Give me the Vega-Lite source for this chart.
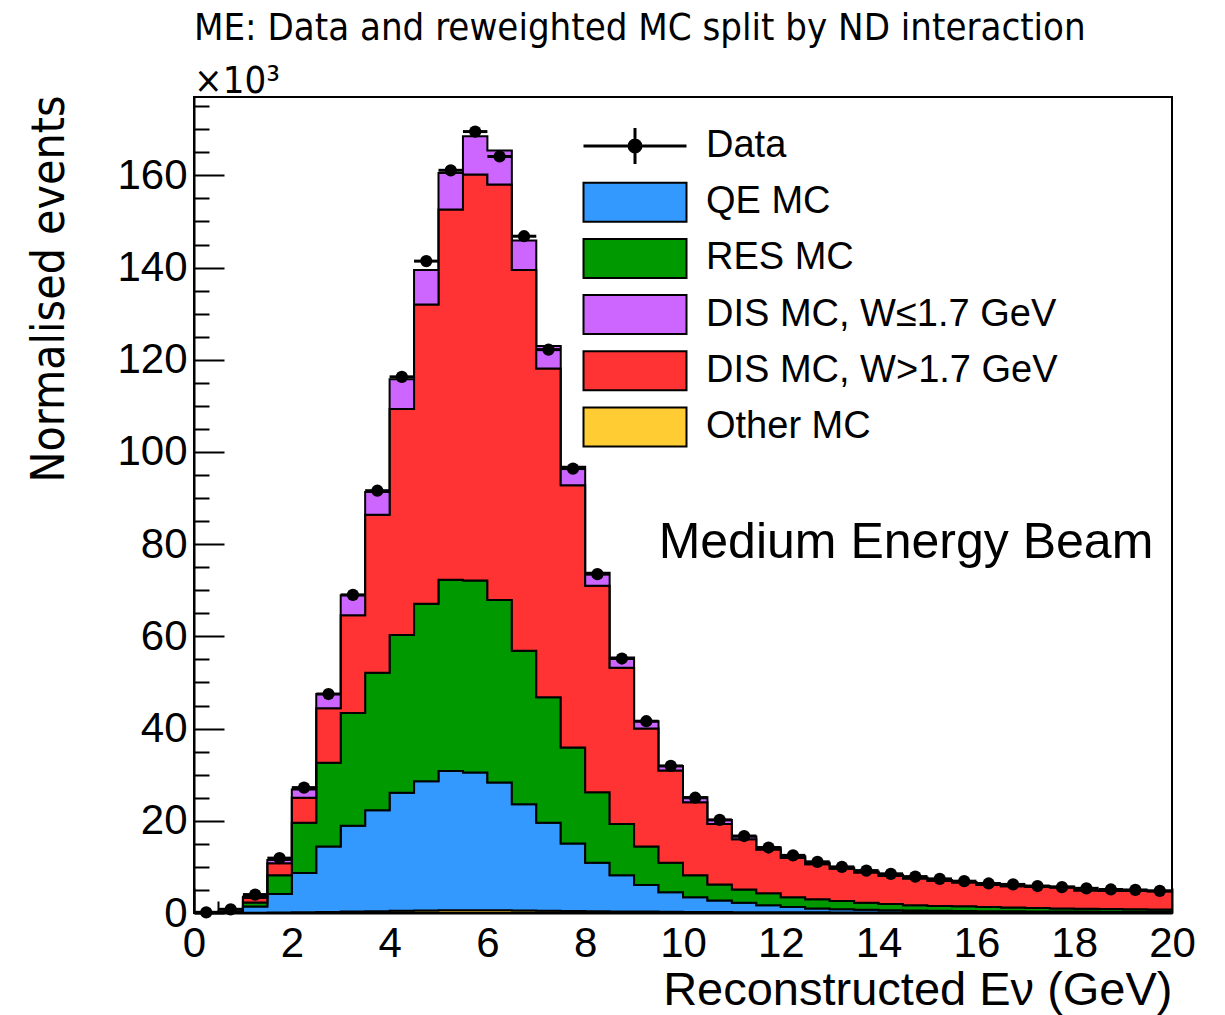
{
  "$schema": "https://vega.github.io/schema/vega-lite/v6.json",
  "width": 978,
  "height": 816,
  "autosize": {"type": "none"},
  "padding": {"left": 194, "top": 97, "right": 53, "bottom": 102},
  "background": "white",
  "title": {
    "text": "ME: Data and reweighted MC split by ND interaction",
    "subtitle": "×10³",
    "anchor": "start",
    "frame": "group",
    "font": "Liberation Sans Narrow, DejaVu Sans Condensed, sans-serif",
    "fontSize": 38,
    "fontWeight": "normal",
    "color": "black",
    "subtitleFont": "Liberation Sans Narrow, DejaVu Sans Condensed, sans-serif",
    "subtitleFontSize": 38,
    "subtitleColor": "black",
    "subtitlePadding": 15,
    "offset": -16
  },
  "config": {
    "view": {"stroke": "black", "strokeWidth": 2},
    "axis": {
      "domainColor": "black",
      "domainWidth": 2,
      "tickColor": "black",
      "tickWidth": 2,
      "labelColor": "black",
      "titleColor": "black",
      "grid": false,
      "labelFont": "Liberation Sans",
      "labelFontSize": 42,
      "labelFlush": false,
      "labelOverlap": false
    }
  },
  "data": {
    "values": [
      {"e": 0.25, "d": 0.15, "t0": 0, "t1": 0.02, "t2": 0.03, "t3": 0.04, "t4": 0.05},
      {"e": 0.75, "d": 0.8, "t0": 0.01, "t1": 0.1, "t2": 0.18, "t3": 0.25, "t4": 0.3},
      {"e": 1.25, "d": 4.0, "t0": 0.05, "t1": 1.4, "t2": 2.3, "t3": 3.3, "t4": 3.5},
      {"e": 1.75, "d": 11.9, "t0": 0.1, "t1": 4.1, "t2": 8.2, "t3": 10.8, "t4": 11.5},
      {"e": 2.25, "d": 27.2, "t0": 0.15, "t1": 8.7, "t2": 19.6, "t3": 25.0, "t4": 26.8},
      {"e": 2.75, "d": 47.5, "t0": 0.2, "t1": 14.4, "t2": 32.6, "t3": 44.4, "t4": 47.5},
      {"e": 3.25, "d": 69.0, "t0": 0.3, "t1": 18.9, "t2": 43.4, "t3": 64.6, "t4": 68.9},
      {"e": 3.75, "d": 91.6, "t0": 0.4, "t1": 22.3, "t2": 52.1, "t3": 86.4, "t4": 91.3},
      {"e": 4.25, "d": 116.3, "t0": 0.5, "t1": 26.1, "t2": 60.3, "t3": 109.3, "t4": 115.8},
      {"e": 4.75, "d": 141.4, "t0": 0.55, "t1": 28.6, "t2": 67.1, "t3": 132.0, "t4": 139.5},
      {"e": 5.25, "d": 161.1, "t0": 0.6, "t1": 30.8, "t2": 72.3, "t3": 152.6, "t4": 160.5},
      {"e": 5.75, "d": 169.5, "t0": 0.6, "t1": 30.5, "t2": 72.1, "t3": 160.2, "t4": 168.5},
      {"e": 6.25, "d": 164.1, "t0": 0.6, "t1": 28.3, "t2": 67.9, "t3": 158.0, "t4": 165.4},
      {"e": 6.75, "d": 146.8, "t0": 0.55, "t1": 23.6, "t2": 56.9, "t3": 139.5, "t4": 145.9},
      {"e": 7.25, "d": 122.2, "t0": 0.5, "t1": 19.6, "t2": 46.8, "t3": 118.1, "t4": 123.0},
      {"e": 7.75, "d": 96.4, "t0": 0.45, "t1": 15.1, "t2": 35.9, "t3": 92.8, "t4": 96.8},
      {"e": 8.25, "d": 73.5, "t0": 0.4, "t1": 10.9, "t2": 26.2, "t3": 71.0, "t4": 73.8},
      {"e": 8.75, "d": 55.2, "t0": 0.35, "t1": 8.2, "t2": 19.3, "t3": 53.2, "t4": 55.4},
      {"e": 9.25, "d": 41.6, "t0": 0.3, "t1": 6.1, "t2": 14.4, "t3": 40.0, "t4": 41.6},
      {"e": 9.75, "d": 31.9, "t0": 0.25, "t1": 4.5, "t2": 10.9, "t3": 30.9, "t4": 31.9},
      {"e": 10.25, "d": 25.0, "t0": 0.22, "t1": 3.4, "t2": 8.2, "t3": 24.0, "t4": 25.1},
      {"e": 10.75, "d": 20.2, "t0": 0.2, "t1": 2.7, "t2": 6.2, "t3": 19.3, "t4": 20.2},
      {"e": 11.25, "d": 16.7, "t0": 0.18, "t1": 2.2, "t2": 5.1, "t3": 16.0, "t4": 16.6},
      {"e": 11.75, "d": 14.2, "t0": 0.16, "t1": 1.7, "t2": 4.3, "t3": 13.8, "t4": 14.2},
      {"e": 12.25, "d": 12.5, "t0": 0.15, "t1": 1.3, "t2": 3.4, "t3": 12.0, "t4": 12.3},
      {"e": 12.75, "d": 11.1, "t0": 0.14, "t1": 0.95, "t2": 3.0, "t3": 10.6, "t4": 10.9},
      {"e": 13.25, "d": 10.0, "t0": 0.13, "t1": 0.8, "t2": 2.6, "t3": 9.6, "t4": 9.85},
      {"e": 13.75, "d": 9.2, "t0": 0.12, "t1": 0.7, "t2": 2.2, "t3": 8.8, "t4": 9.0},
      {"e": 14.25, "d": 8.5, "t0": 0.12, "t1": 0.6, "t2": 1.95, "t3": 8.1, "t4": 8.3},
      {"e": 14.75, "d": 7.9, "t0": 0.11, "t1": 0.55, "t2": 1.7, "t3": 7.5, "t4": 7.7},
      {"e": 15.25, "d": 7.4, "t0": 0.11, "t1": 0.5, "t2": 1.5, "t3": 7.0, "t4": 7.15},
      {"e": 15.75, "d": 6.9, "t0": 0.1, "t1": 0.45, "t2": 1.45, "t3": 6.6, "t4": 6.75},
      {"e": 16.25, "d": 6.4, "t0": 0.1, "t1": 0.4, "t2": 1.3, "t3": 6.1, "t4": 6.25},
      {"e": 16.75, "d": 6.2, "t0": 0.1, "t1": 0.38, "t2": 1.2, "t3": 5.8, "t4": 5.95},
      {"e": 17.25, "d": 5.85, "t0": 0.1, "t1": 0.35, "t2": 1.1, "t3": 5.7, "t4": 5.85},
      {"e": 17.75, "d": 5.6, "t0": 0.1, "t1": 0.33, "t2": 1.0, "t3": 5.6, "t4": 5.75},
      {"e": 18.25, "d": 5.35, "t0": 0.1, "t1": 0.3, "t2": 0.9, "t3": 4.9, "t4": 5.0},
      {"e": 18.75, "d": 5.1, "t0": 0.1, "t1": 0.28, "t2": 0.85, "t3": 4.85, "t4": 4.95},
      {"e": 19.25, "d": 5.0, "t0": 0.1, "t1": 0.26, "t2": 0.8, "t3": 4.8, "t4": 4.9},
      {"e": 19.75, "d": 4.8, "t0": 0.1, "t1": 0.25, "t2": 0.75, "t3": 4.7, "t4": 4.8}
    ]
  },
  "layer": [
    {
      "transform": [
        {"bin": {"step": 0.5, "extent": [0, 20]}, "field": "e", "as": ["lo", "hi"]},
        {"fold": ["lo", "hi"], "as": ["edge", "x"]}
      ],
      "mark": {"type": "area", "opacity": 1, "stroke": "black", "strokeWidth": 2},
      "encoding": {
        "x": {
          "field": "x", "type": "quantitative",
          "scale": {"domain": [0, 20], "nice": false, "zero": false},
          "axis": {
            "title": "Reconstructed Eν (GeV)",
            "titleFont": "Liberation Sans",
            "titleFontSize": 47,
            "titleFontWeight": "normal",
            "titleAnchor": "end",
            "titleAlign": "right",
            "titleBaseline": "alphabetic",
            "titleX": 978,
            "titleY": 91,
            "tickCount": 40,
            "labelExpr": "datum.value % 2 === 0 ? format(datum.value, 'd') : ''",
            "tickSize": {"condition": {"test": "datum.value % 2 === 0", "value": -25}, "value": -12},
            "labelPadding": 35
          }
        },
        "y": {
          "field": "t0", "type": "quantitative", "stack": null,
          "scale": {"domain": [0, 177], "nice": false},
          "axis": {
            "title": "Normalised events",
            "titleFont": "Liberation Sans Narrow, DejaVu Sans Condensed, sans-serif",
            "titleFontSize": 46,
            "titleFontWeight": "normal",
            "titleAnchor": "end",
            "titleAlign": "right",
            "titleBaseline": "alphabetic",
            "titleAngle": -90,
            "titleX": -131,
            "titleY": -2,
            "tickCount": 36,
            "labelExpr": "datum.value % 20 === 0 ? format(datum.value, 'd') : ''",
            "tickSize": {"condition": {"test": "datum.value % 20 === 0", "value": -30}, "value": -15},
            "labelPadding": 37
          }
        },
        "y2": {"datum": 0},
        "order": [{"field": "x", "type": "quantitative"}, {"field": "edge", "type": "nominal"}],
        "color": {
          "datum": "Other MC",
          "type": "nominal",
          "scale": {
            "domain": ["Data", "QE MC", "RES MC", "DIS MC, W≤1.7 GeV", "DIS MC, W>1.7 GeV", "Other MC"],
            "range": ["#000000", "#3399ff", "#009900", "#cc66ff", "#ff3333", "#ffcc33"]
          },
          "legend": {
            "orient": "none",
            "legendX": 422,
            "legendY": 30,
            "title": null,
            "padding": 0,
            "symbolSize": 1600,
            "symbolOpacity": 1,
            "symbolStrokeColor": "black",
            "symbolStrokeWidth": 2,
            "labelFont": "Liberation Sans",
            "labelFontSize": 38,
            "labelColor": "black",
            "labelLimit": 0,
            "labelOffset": 52,
            "rowPadding": 8.2,
            "encode": {
              "symbols": {
                "update": {
                  "shape": {"signal": "datum.value === 'Data' ? 'M-2.575,0H2.575M0,-0.9V0.9M0.3,0A0.3,0.3,0,1,1,-0.3,0A0.3,0.3,0,1,1,0.3,0Z' : 'M-2.575,-0.975H2.575V0.975H-2.575Z'"},
                  "stroke": {"value": "black"},
                  "strokeWidth": {"signal": "datum.value === 'Data' ? 3 : 2"},
                  "opacity": {"value": 1},
                  "fillOpacity": {"value": 1}
                }
              }
            }
          }
        }
      }
    },
    {
      "transform": [
        {"bin": {"step": 0.5, "extent": [0, 20]}, "field": "e", "as": ["lo", "hi"]},
        {"fold": ["lo", "hi"], "as": ["edge", "x"]}
      ],
      "mark": {"type": "area", "opacity": 1, "stroke": "black", "strokeWidth": 2},
      "encoding": {
        "x": {"field": "x", "type": "quantitative"},
        "y": {"field": "t1", "type": "quantitative", "stack": null},
        "y2": {"field": "t0"},
        "order": [{"field": "x", "type": "quantitative"}, {"field": "edge", "type": "nominal"}],
        "color": {"datum": "QE MC", "type": "nominal"}
      }
    },
    {
      "transform": [
        {"bin": {"step": 0.5, "extent": [0, 20]}, "field": "e", "as": ["lo", "hi"]},
        {"fold": ["lo", "hi"], "as": ["edge", "x"]}
      ],
      "mark": {"type": "area", "opacity": 1, "stroke": "black", "strokeWidth": 2},
      "encoding": {
        "x": {"field": "x", "type": "quantitative"},
        "y": {"field": "t2", "type": "quantitative", "stack": null},
        "y2": {"field": "t1"},
        "order": [{"field": "x", "type": "quantitative"}, {"field": "edge", "type": "nominal"}],
        "color": {"datum": "RES MC", "type": "nominal"}
      }
    },
    {
      "transform": [
        {"bin": {"step": 0.5, "extent": [0, 20]}, "field": "e", "as": ["lo", "hi"]},
        {"fold": ["lo", "hi"], "as": ["edge", "x"]}
      ],
      "mark": {"type": "area", "opacity": 1, "stroke": "black", "strokeWidth": 2},
      "encoding": {
        "x": {"field": "x", "type": "quantitative"},
        "y": {"field": "t3", "type": "quantitative", "stack": null},
        "y2": {"field": "t2"},
        "order": [{"field": "x", "type": "quantitative"}, {"field": "edge", "type": "nominal"}],
        "color": {"datum": "DIS MC, W>1.7 GeV", "type": "nominal"}
      }
    },
    {
      "transform": [
        {"bin": {"step": 0.5, "extent": [0, 20]}, "field": "e", "as": ["lo", "hi"]},
        {"fold": ["lo", "hi"], "as": ["edge", "x"]}
      ],
      "mark": {"type": "area", "opacity": 1, "stroke": "black", "strokeWidth": 2},
      "encoding": {
        "x": {"field": "x", "type": "quantitative"},
        "y": {"field": "t4", "type": "quantitative", "stack": null},
        "y2": {"field": "t3"},
        "order": [{"field": "x", "type": "quantitative"}, {"field": "edge", "type": "nominal"}],
        "color": {"datum": "DIS MC, W≤1.7 GeV", "type": "nominal"}
      }
    },
    {
      "transform": [
        {"bin": {"step": 0.5, "extent": [0, 20]}, "field": "e", "as": ["lo", "hi"]}
      ],
      "mark": {"type": "rule", "color": "black", "strokeWidth": 3},
      "encoding": {
        "x": {"field": "lo", "type": "quantitative"},
        "x2": {"field": "hi"},
        "y": {"field": "d", "type": "quantitative"}
      }
    },
    {
      "mark": {"type": "point", "filled": true, "size": 150, "opacity": 1},
      "encoding": {
        "x": {"field": "e", "type": "quantitative"},
        "y": {"field": "d", "type": "quantitative"},
        "color": {"datum": "Data", "type": "nominal"}
      }
    },
    {
      "data": {"values": [{"label": "Medium Energy Beam"}]},
      "mark": {"type": "text", "font": "Liberation Sans", "fontSize": 50, "align": "center", "baseline": "alphabetic", "color": "black"},
      "encoding": {
        "text": {"field": "label"},
        "x": {"datum": 14.56},
        "y": {"datum": 77.0}
      }
    }
  ]
}
